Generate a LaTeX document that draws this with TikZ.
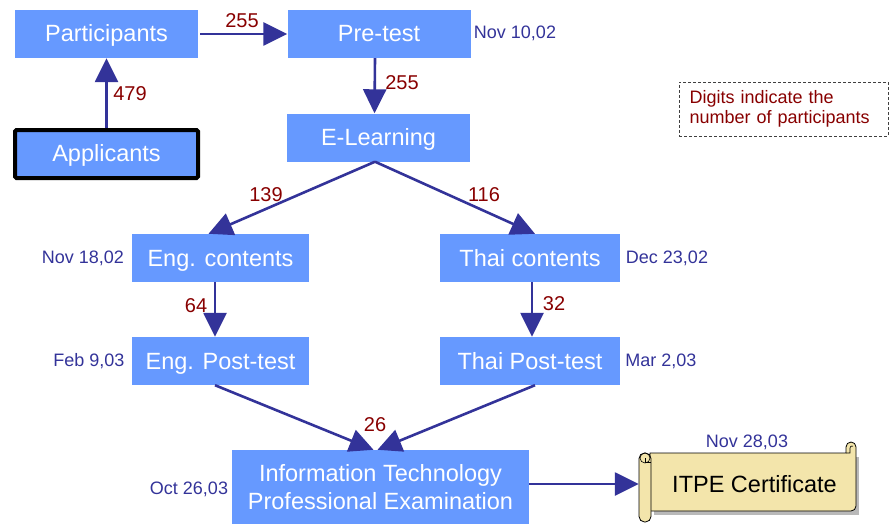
\documentclass[tikz,border=0pt]{standalone}
\usepackage{fontspec}
\setmainfont{Liberation Sans}
\usetikzlibrary{arrows.meta}
\definecolor{boxblue}{HTML}{6699FF}
\definecolor{arrowblue}{HTML}{333399}
\definecolor{numred}{HTML}{880000}
\definecolor{scrollfill}{HTML}{F3E5AB}
\tikzset{
  stagebox/.style={fill=boxblue, text=white, inner sep=0pt, font=\fontsize{23.5}{28}\selectfont, minimum height=48pt, text height=20pt, text depth=4pt},
  flow/.style={draw=arrowblue, line width=2.6pt, -{Triangle[length=24pt,width=23pt]}},
  count/.style={text=numred, font=\fontsize{20}{22}\selectfont, inner sep=0pt},
  datelbl/.style={text=arrowblue, font=\fontsize{18}{20}\selectfont, inner sep=0pt},
  scrollsty/.style={draw=black, line width=0.8pt, fill=scrollfill}
}
\begin{document}
\begin{tikzpicture}[x=1pt,y=-1pt]
\useasboundingbox (0,0) rectangle (890,524);
% boxes
\node[stagebox, minimum width=183pt] (part) at (106.5,34) {Participants};
\node[stagebox, minimum width=183pt] (pre) at (379,34) {Pre-test};
\node[stagebox, minimum width=183pt] (el) at (378.5,137.5) {E-Learning};
\node[stagebox, minimum width=183pt, minimum height=48pt, draw=black, line width=4pt, rounded corners=1.5pt, text height=19pt, text depth=5pt] (app) at (106.5,154) {Applicants};
\node[stagebox, minimum width=177pt] (engc) at (220.5,258) {Eng. contents};
\node[stagebox, minimum width=180pt] (thaic) at (530,258) {Thai contents};
\node[stagebox, minimum width=177pt] (engp) at (220.5,361) {Eng. Post-test};
\node[stagebox, minimum width=180pt] (thaip) at (530,361) {Thai Post-test};
\node[stagebox, minimum width=297pt, minimum height=74pt, align=center, text height=, text depth=] (itpe) at (380.5,487) {Information Technology\\Professional Examination};

% scroll certificate
\fill[gray!55] (654,457) rectangle (859,515);
\draw[scrollsty] (650,453) -- (846,453) -- (846,447) arc[start angle=180, end angle=360, radius=5] -- (856,506) arc[start angle=0, end angle=90, radius=5] -- (650,511) -- cycle;
\draw[line width=0.6pt] (846,453) -- (850,453) -- (850,448) arc[start angle=180, end angle=300, radius=2];
\draw[scrollsty] (639,522) [rounded corners=5.5pt] -- (639,453) -- (651,453) -- (651,522) -- cycle;
\draw[line width=0.6pt] (645,458) circle[radius=5];
\draw[line width=0.6pt] (645,458) -- (645,462) -- (651,462);
\node[inner sep=0pt, minimum width=217pt, minimum height=69pt, font=\fontsize{23.5}{28}\selectfont] (cert) at (747.5,484) {\hspace*{14pt}ITPE Certificate};

% legend
\node[draw=gray!50!black, dash pattern=on 3pt off 2pt, line width=0.8pt, minimum width=209pt, minimum height=54pt, text width=188pt, inner xsep=10.5pt, align=left, text=numred, font=\fontsize{18}{20}\selectfont] (legend) at (783.5,109) {Digits indicate the\\number of participants};

% connectors
\draw[flow] (app.north) -- (part.south);
\draw[flow] (part.east) ++(2,0) coordinate (pe) (pe) -- (pre.west);
\draw[flow] ([xshift=-4pt]pre.south) -- ([xshift=-4pt]el.north);
\coordinate (elb) at ([xshift=-3.5pt]el.south);
\draw[flow] (elb) -- ([xshift=-12pt]engc.north);
\draw[flow] (elb) -- ([xshift=5pt]thaic.north);
\draw[flow] ([xshift=-5.5pt]engc.south) -- ([xshift=-5.5pt]engp.north);
\draw[flow] ([xshift=2pt]thaic.south) -- ([xshift=2pt]thaip.north);
\draw[flow] ([xshift=-5.5pt]engp.south) -- ([xshift=-7pt]itpe.north);
\draw[flow] ([xshift=5pt]thaip.south) -- ([xshift=-3pt]itpe.north);
\coordinate (ie) at ([yshift=3pt]itpe.east);
\draw[flow] (ie) -- (cert.west |- ie);

% counts
\node[count] (n479) at (130,94) {479};
\node[count] (n255a) at (242,21) {255};
\node[count] (n255b) at (402,83) {255};
\node[count] (n139) at (266,195) {139};
\node[count] (n116) at (484,195) {116};
\node[count] (n64) at (196,306) {64};
\node[count] (n32) at (554,304) {32};
\node[count] (n26) at (375,425) {26};

% dates
\node[datelbl] (d1) at (515,33) {Nov 10,02};
\node[datelbl] (d2) at (83,258) {Nov 18,02};
\node[datelbl] (d3) at (667,258) {Dec 23,02};
\node[datelbl] (d4) at (89,361) {Feb 9,03};
\node[datelbl] (d5) at (661,361) {Mar 2,03};
\node[datelbl] (d6) at (189,489) {Oct 26,03};
\node[datelbl] (d7) at (747,442) {Nov 28,03};
\end{tikzpicture}
\end{document}
